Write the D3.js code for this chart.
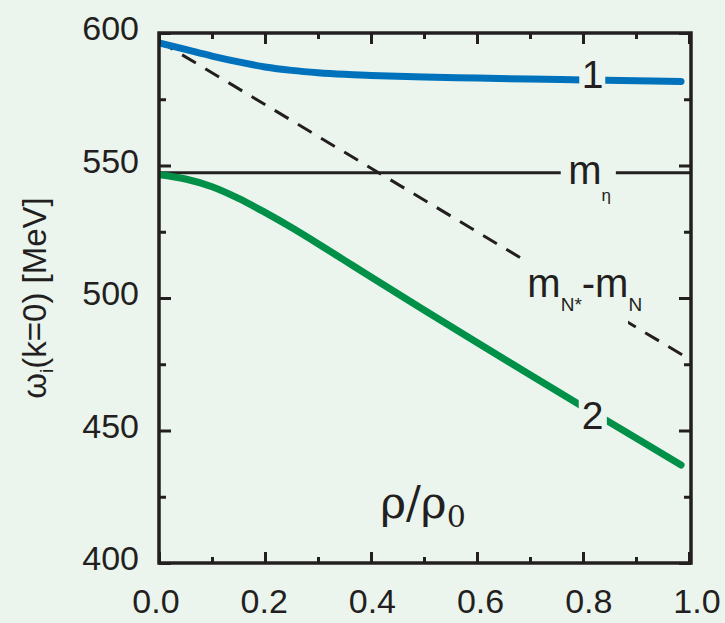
<!DOCTYPE html>
<html>
<head>
<meta charset="utf-8">
<script src="https://cdn.jsdelivr.net/npm/d3@7"></script>
<style>
	body { margin: 0; background: #ebf5ee; }
	svg { display: block; }
	.tick-label { font-family: "Liberation Sans", Arial, sans-serif; font-size: 34px; fill: #231f20; }
</style>
</head>
<body>
<div id="graph"></div>
<script>
// values
var rho = [0, 0.05, 0.1, 0.15, 0.2, 0.25, 0.3, 0.35, 0.4, 0.5, 0.6, 0.7, 0.8, 0.9, 0.985];
var branch1 = [596.3, 593.8, 591.3, 589.1, 587.2, 585.9, 585.0, 584.4, 584.0, 583.4, 583.0, 582.6, 582.3, 582.0, 581.7];
var branch2 = [546.5, 544.9, 542.0, 537.6, 532.3, 526.6, 520.5, 514.2, 507.9, 495.5, 483.2, 471.0, 459.0, 447.2, 437.0];
var diffRho = [0, 1];
var diffMass = [597, 477];
var mEta = 547.3;

var xTicks = [0, 0.2, 0.4, 0.6, 0.8, 1.0];
var xMinor = [0.1, 0.3, 0.5, 0.7, 0.9];
var yTicks = [400, 450, 500, 550, 600];
var yMinor = [425, 475, 525, 575];

// label gaps along rho
var gap1 = [0.793, 0.842];
var gapEta = [0.758, 0.862];
var gapDiff = [0.687, 0.885];
var gap2 = [0.792, 0.845];

var w = 725, h = 623;
var pLeft = 159, pRight = 691, pTop = 33, pBottom = 563;

var xScale = d3.scaleLinear().domain([0, 1]).range([159, 689]);
var xLabelScale = d3.scaleLinear().domain([0, 1]).range([156, 697]);
var yScale = d3.scaleLinear().domain([400, 600]).range([pBottom, pTop]);

var ink = "#231f20";
var blue = "#0072bc";
var green = "#009048";

var svg = d3.select("#graph")
	.append("svg")
	.attr("width", w)
	.attr("height", h);

svg.append("rect")
	.attr("width", w)
	.attr("height", h)
	.attr("fill", "#ebf5ee");

var defs = svg.append("defs");

function makeClip(id, gap) {
	var cp = defs.append("clipPath").attr("id", id);
	cp.append("rect")
		.attr("x", pLeft).attr("y", pTop)
		.attr("width", xScale(gap[0]) - pLeft)
		.attr("height", pBottom - pTop);
	cp.append("rect")
		.attr("x", xScale(gap[1])).attr("y", pTop)
		.attr("width", pRight - xScale(gap[1]))
		.attr("height", pBottom - pTop);
}
makeClip("clip1", gap1);
makeClip("clipEta", gapEta);
makeClip("clipDiff", gapDiff);
makeClip("clip2", gap2);

var line = d3.line()
	.x(function (d) { return xScale(d[0]); })
	.y(function (d) { return yScale(d[1]); })
	.curve(d3.curveMonotoneX);

// m_eta line
svg.append("line")
	.attr("clip-path", "url(#clipEta)")
	.attr("x1", pLeft).attr("x2", pRight)
	.attr("y1", yScale(mEta)).attr("y2", yScale(mEta))
	.attr("stroke", ink)
	.attr("stroke-width", 3);

// m_N* - m_N dashed line
svg.append("path")
	.datum(d3.zip(diffRho, diffMass))
	.attr("clip-path", "url(#clipDiff)")
	.attr("d", line)
	.attr("fill", "none")
	.attr("stroke", ink)
	.attr("stroke-width", 3)
	.attr("stroke-dasharray", "16,11");

// branch 1
svg.append("path")
	.datum(d3.zip(rho, branch1))
	.attr("clip-path", "url(#clip1)")
	.attr("d", line)
	.attr("fill", "none")
	.attr("stroke", blue)
	.attr("stroke-width", 7)
	.attr("stroke-linecap", "round");

// branch 2
svg.append("path")
	.datum(d3.zip(rho, branch2))
	.attr("clip-path", "url(#clip2)")
	.attr("d", line)
	.attr("fill", "none")
	.attr("stroke", green)
	.attr("stroke-width", 7)
	.attr("stroke-linecap", "round");

// ticks, inward on all four sides
function drawTicks(axis, tr, size) {
	var g = svg.append("g")
		.attr("transform", tr)
		.call(axis.tickSize(size).tickFormat(""));
	g.select(".domain").remove();
	g.selectAll("line").attr("stroke", ink).attr("stroke-width", 3);
}
drawTicks(d3.axisBottom(xScale).tickValues(xTicks), "translate(0," + pBottom + ")", -11);
drawTicks(d3.axisBottom(xScale).tickValues(xMinor), "translate(0," + pBottom + ")", -6);
drawTicks(d3.axisTop(xScale).tickValues(xTicks), "translate(0," + pTop + ")", -11);
drawTicks(d3.axisTop(xScale).tickValues(xMinor), "translate(0," + pTop + ")", -6);
drawTicks(d3.axisLeft(yScale).tickValues(yTicks), "translate(" + pLeft + ",0)", -12);
drawTicks(d3.axisLeft(yScale).tickValues(yMinor), "translate(" + pLeft + ",0)", -7);
drawTicks(d3.axisRight(yScale).tickValues(yTicks), "translate(" + pRight + ",0)", -12);
drawTicks(d3.axisRight(yScale).tickValues(yMinor), "translate(" + pRight + ",0)", -7);

// frame
svg.append("rect")
	.attr("x", pLeft).attr("y", pTop)
	.attr("width", pRight - pLeft)
	.attr("height", pBottom - pTop)
	.attr("fill", "none")
	.attr("stroke", ink)
	.attr("stroke-width", 3.5);

// tick labels
svg.selectAll(".xlab")
	.data(xTicks)
	.enter().append("text")
	.attr("class", "tick-label")
	.attr("x", function (d) { return xLabelScale(d); })
	.attr("y", 613)
	.attr("text-anchor", "middle")
	.text(function (d) { return d.toFixed(1); });

svg.selectAll(".ylab")
	.data(yTicks)
	.enter().append("text")
	.attr("class", "tick-label")
	.attr("x", 139)
	.attr("y", function (d) { return yScale(d) + 7; })
	.attr("text-anchor", "end")
	.text(function (d) { return d; });

// axis titles
var yTitle = svg.append("text")
	.attr("transform", "translate(46,298) rotate(-90)")
	.attr("text-anchor", "middle")
	.attr("font-family", "Liberation Sans, Arial, sans-serif")
	.attr("font-size", 33)
	.attr("fill", ink);
yTitle.append("tspan").text("ω");
yTitle.append("tspan").attr("font-size", 19).attr("dy", 7).text("i");
yTitle.append("tspan").attr("dy", -7).text("(k=0) [MeV]");

var xTitle = svg.append("text")
	.attr("x", 423)
	.attr("y", 518)
	.attr("text-anchor", "middle")
	.attr("font-family", "DejaVu Serif, Liberation Serif, serif")
	.attr("font-size", 44)
	.attr("fill", ink);
xTitle.append("tspan").text("ρ/ρ");
xTitle.append("tspan").attr("font-size", 30).attr("dy", 9).text("0");

// curve labels
var sans = "Liberation Sans, Arial, sans-serif";
svg.append("text")
	.attr("x", xScale(0.818))
	.attr("y", yScale(582.2) + 8)
	.attr("text-anchor", "middle")
	.attr("font-family", sans)
	.attr("font-size", 39)
	.attr("fill", ink)
	.text("1");

svg.append("text")
	.attr("x", xScale(0.818))
	.attr("y", yScale(456) + 14)
	.attr("text-anchor", "middle")
	.attr("font-family", sans)
	.attr("font-size", 39)
	.attr("fill", ink)
	.text("2");

var etaLab = svg.append("text")
	.attr("x", xScale(0.772))
	.attr("y", yScale(mEta) + 11)
	.attr("font-family", sans)
	.attr("font-size", 40)
	.attr("fill", ink);
etaLab.append("tspan").text("m");
etaLab.append("tspan").attr("font-size", 17).attr("dy", 17).text("η");

var diffLab = svg.append("text")
	.attr("x", xScale(0.695))
	.attr("y", 297)
	.attr("font-family", sans)
	.attr("font-size", 40)
	.attr("fill", ink);
diffLab.append("tspan").text("m");
diffLab.append("tspan").attr("font-size", 19).attr("dy", 14).text("N*");
diffLab.append("tspan").attr("dy", -14).text("-m");
diffLab.append("tspan").attr("font-size", 19).attr("dy", 14).text("N");
</script>
</body>
</html>
